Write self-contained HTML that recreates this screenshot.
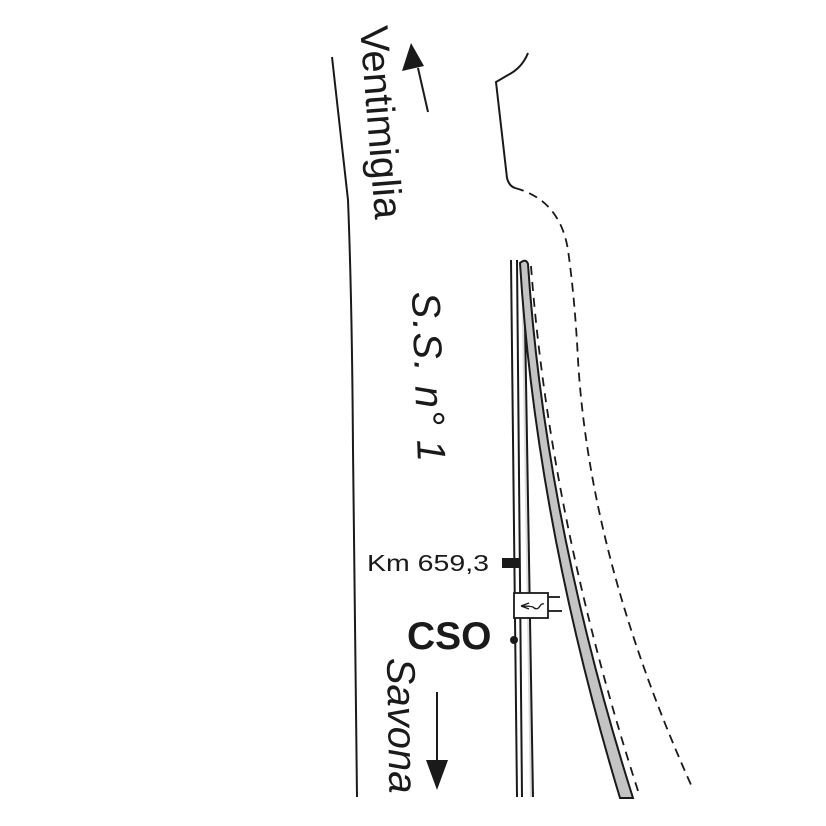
<!DOCTYPE html>
<html><head><meta charset="utf-8"><style>html,body{margin:0;padding:0;background:#fff}svg{display:block}</style></head>
<body>
<svg width="826" height="826" viewBox="0 0 826 826" xmlns="http://www.w3.org/2000/svg" font-family="Liberation Sans, sans-serif">
<rect width="826" height="826" fill="#fff"/>
<path d="M332,57 L348,200 Q352,300 353,450 L357,797" fill="none" stroke="#1a1a1a" stroke-width="2"/>
<path d="M528,53 Q522,68 508,75 L496,82 L507,178 Q509,186 515,188" fill="none" stroke="#1a1a1a" stroke-width="2"/>
<path d="M515,188 Q560,200 568,250 Q575,300 578,360 Q590,560 692,787" fill="none" stroke="#1a1a1a" stroke-width="1.8" stroke-dasharray="9,6"/>
<path d="M521,262 L530,797 L533,797 L524,262 Z" fill="#ddd"/>
<line x1="511" y1="260" x2="517" y2="797" stroke="#1a1a1a" stroke-width="2"/>
<line x1="517" y1="260" x2="522" y2="797" stroke="#1a1a1a" stroke-width="2"/>
<line x1="524" y1="262" x2="533" y2="797" stroke="#1a1a1a" stroke-width="2"/>
<path d="M520,263 Q526,258 528,264 Q545,520 633,798 L620,798 Q536,520 520,263 Z" fill="#c4c4c4" stroke="#1a1a1a" stroke-width="2"/>
<path d="M531,266 Q550,520 640,797" fill="none" stroke="#1a1a1a" stroke-width="1.8" stroke-dasharray="9,7"/>
<rect x="502" y="558" width="18" height="10" fill="#1a1a1a"/>
<line x1="548" y1="597" x2="560" y2="597" stroke="#1a1a1a" stroke-width="1.8"/>
<line x1="548" y1="611" x2="562" y2="611" stroke="#1a1a1a" stroke-width="1.8"/>
<rect x="514" y="593" width="34" height="25" fill="#fff" stroke="#1a1a1a" stroke-width="1.8"/>
<path d="M521,606 L529,603 M521,606 L529,609 M521,606 Q530,606 533,607 Q537,611 540,606 Q542,603 544,604" fill="none" stroke="#1a1a1a" stroke-width="1.3"/>
<circle cx="514" cy="640" r="4" fill="#1a1a1a"/>
<line x1="428" y1="112" x2="418" y2="68" stroke="#1a1a1a" stroke-width="2"/>
<polygon points="411,43 402,71 424,66" fill="#1a1a1a"/>
<line x1="437" y1="692" x2="437" y2="770" stroke="#1a1a1a" stroke-width="2"/>
<polygon points="426,760 448,760 437,790" fill="#1a1a1a"/>
<text x="360" y="27" font-size="40" fill="#1a1a1a" transform="rotate(85.5 360 27)">Ventimiglia</text>
<text x="412" y="292" font-size="40" font-style="italic" fill="#1a1a1a" letter-spacing="1.5" transform="rotate(88 412 292)">S.S. n° 1</text>
<text x="387" y="658" font-size="40" font-style="italic" fill="#1a1a1a" transform="rotate(89 387 658)">Savona</text>
<text x="367" y="571" font-size="23" fill="#1a1a1a" textLength="122" lengthAdjust="spacingAndGlyphs">Km 659,3</text>
<text x="407" y="649" font-size="39" font-weight="bold" fill="#1a1a1a">CSO</text>
</svg>
</body></html>
